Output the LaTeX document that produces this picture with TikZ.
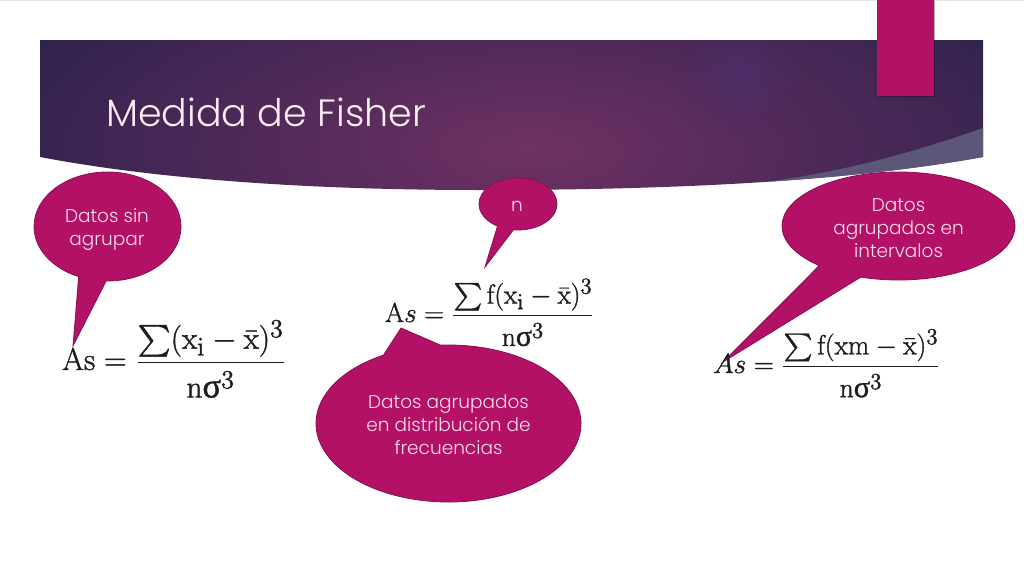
\documentclass[tikz,border=0pt]{standalone}
\usepackage{amsmath}
\usepackage[no-math]{fontspec}
\setmainfont{Poppins}[UprightFont=* Light]
\newfontfamily\mathserif{Liberation Serif}
\usetikzlibrary{shapes.callouts,fadings}
\definecolor{berry}{HTML}{B31166}
\definecolor{berryline}{HTML}{8A0F50}
\definecolor{bubbletext}{HTML}{F7DCEB}
\definecolor{swoosh}{HTML}{5C5678}
\definecolor{bandedge}{HTML}{27204B}
\definecolor{bandmid}{HTML}{6F3163}
\definecolor{spot}{HTML}{4C2F6C}
\definecolor{ink}{HTML}{1E1E1E}
\tikzfading[name=spotfade,inner color=transparent!0,outer color=transparent!100]
\pgfdeclareradialshading{bandglow}{\pgfpoint{0bp}{0bp}}{color(0bp)=(bandmid); color(30bp)=(bandedge); color(100bp)=(bandedge)}
\tikzset{
  bubble/.style={ellipse callout,draw=berryline,fill=berry,line width=0.8pt,inner sep=0pt},
  bubblelabel/.style={text=bubbletext,align=center,inner sep=0pt,font=\fontsize{18.5}{23}\selectfont},
  formula/.style={text=ink,inner sep=0pt,anchor=base west,font=\fontsize{19}{23}\selectfont},
}
\newcommand{\bandpath}{(40,40) -- (983,40) -- (983,157) .. controls (860,179) and (700,190) .. (480,190) .. controls (300,190) and (150,178) .. (40,157) -- cycle}
\newcommand{\sig}{\text{\mathserif σ}}
\newcommand{\heavy}[1]{\special{pdf:literal 2 Tr 0.22 w}#1\special{pdf:literal 0 Tr 1 w}}
\newcommand{\dn}{\rule{0pt}{17pt}}
\begin{document}
\begin{tikzpicture}[x=1pt,y=-1pt]
\useasboundingbox (0,0) rectangle (1024,576);
\fill[white] (0,0) rectangle (1024,576);
\fill[black!10] (0,0) rectangle (1024,1);
% header band
\begin{scope}
  \clip \bandpath;
  \shade[shading=bandglow] (0,-60) rectangle (1060,360);
  \fill[spot,opacity=.8,path fading=spotfade] (740,75) circle (60);
  \fill[swoosh] (983,128) .. controls (900,157) and (830,175) .. (740,185) -- (740,195) -- (990,195) -- (990,128) -- cycle;
\end{scope}
\node[anchor=base west,inner sep=0pt,text=white!92!berry,font=\fontsize{38}{42}\selectfont] (title) at (106,126) {Medida de Fisher};
\fill[black,opacity=.3] (878,1) rectangle (935,97);
\fill[berry] (877,0) rectangle (934,96);
% callouts
\node[bubble,minimum width=147pt,minimum height=109pt,callout pointer arc=22,callout absolute pointer={(73,346)}] (b1) at (107.5,226.5) {};
\node[bubble,minimum width=78pt,minimum height=52pt,callout pointer arc=25,callout absolute pointer={(485,267)}] (b2) at (518,204) {};
\node[bubble,minimum width=265pt,minimum height=157pt,callout pointer arc=26,callout absolute pointer={(401,328)}] (b3) at (448.5,423.5) {};
\node[bubble,minimum width=233pt,minimum height=108pt,callout pointer arc=24,callout absolute pointer={(723,362)}] (b4) at (898.5,226) {};
\node[bubblelabel] (t1) at (107,229.5) {Datos sin\\agrupar};
\node[bubblelabel] (t2) at (517,206) {n};
\node[bubblelabel] (t3) at (448.5,424.5) {Datos agrupados\\en distribución de\\frecuencias};
\node[bubblelabel] (t4) at (898.5,228) {Datos\\agrupados en\\intervalos};
% formulas
\node[formula] (f1) at (62,370) {\heavy{\scalebox{1.82}{$\mathrm{As}=\dfrac{\sum(\mathrm{x_i}-\bar{\mathrm{x}})^3}{\dn\mathrm{n}\sig^3}$}}};
\node[formula] (f2) at (385,322) {\heavy{\scalebox{1.58}{$\mathrm{A}s=\dfrac{\sum\mathrm{f}(\mathrm{x_i}-\bar{\mathrm{x}})^3}{\dn\mathrm{n}\sig^3}$}}};
\node[formula] (f3) at (713,373) {\heavy{\scalebox{1.60}{$As=\dfrac{\sum\mathrm{f}(\mathrm{xm}-\bar{\mathrm{x}})^3}{\dn\mathrm{n}\sig^3}$}}};
\end{tikzpicture}
\end{document}
